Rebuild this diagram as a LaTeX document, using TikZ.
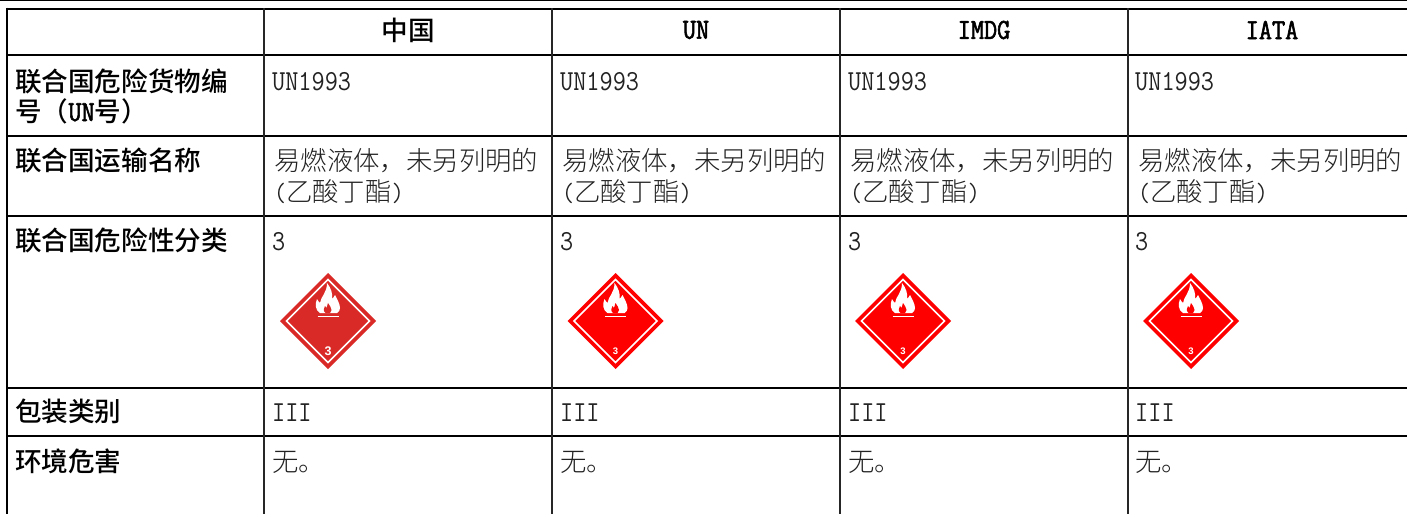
\documentclass[tikz,border=0pt]{standalone}
\usepackage{fontspec}
\setmainfont{Noto Sans CJK SC}
\setmonofont{Latin Modern Mono}
\newfontfamily\cjklight{Noto Sans CJK SC Light}
\newfontfamily\cjkbold{Noto Sans CJK SC Medium}
\newfontfamily\latreg{Latin Modern Mono}[FakeStretch=0.88]
\newfontfamily\latbld{Latin Modern Mono}[FakeStretch=0.88,FakeBold=2]
\definecolor{darkred}{HTML}{D92A27}
\definecolor{purered}{HTML}{FF0000}
\definecolor{bodytext}{HTML}{222222}
\tikzset{
  x=1pt,y=-1pt,
  rule/.style={black,line width=2pt},
  thinrule/.style={black!85,line width=1.6pt},
  hdr/.style={inner sep=0pt,font={\fontsize{26.6}{31}\selectfont\cjkbold},text=black},
  hdrlat/.style={inner sep=0pt,font={\fontsize{29}{31}\selectfont\latbld},text=black},
  lbl/.style={anchor=base west,inner sep=0pt,font={\fontsize{26.6}{31}\selectfont\cjkbold},text=black},
  val/.style={anchor=base west,inner sep=0pt,font={\fontsize{26.4}{31}\selectfont\cjklight},text=bodytext},
  lat/.style={anchor=base west,inner sep=0pt,font={\fontsize{29}{31}\selectfont\latreg},text=bodytext},
  pics/placard/.style n args={3}{code={
    \fill[#1] (0,-48) -- (48,0) -- (0,48) -- (-48,0) -- cycle;
    \draw[white,line width=1.5pt] (0,-41.5) -- (41.5,0) -- (0,41.5) -- (-41.5,0) -- cycle;
    \fill[white] (-8,-8) .. controls (-13,-11) and (-13,-17) .. (-11,-22)
      .. controls (-10,-20) and (-9,-19) .. (-8,-18)
      .. controls (-7,-25) and (-1,-28) .. (-1,-38)
      .. controls (3,-33) and (5,-27) .. (4,-22)
      .. controls (5,-23) and (6,-24) .. (7,-26)
      .. controls (9,-22) and (12,-17) .. (12,-13)
      .. controls (12,-11) and (11,-9) .. (9,-8) -- cycle;
    \fill[#1] (-2.5,-8) .. controls (-5,-10) and (-4.5,-13) .. (-3,-15)
      .. controls (-2.5,-14) and (-2,-13.5) .. (-1.5,-13)
      .. controls (-1,-15) and (-0.5,-16) .. (0,-18)
      .. controls (1.5,-16) and (3.5,-13) .. (3.5,-11)
      .. controls (3.5,-10) and (3,-9) .. (2,-8) -- cycle;
    \draw[white,line width=1.6pt] (-10.5,-4.5) -- (10.5,-4.5);
    \node[text=white,inner sep=0pt,font={\fontsize{#2}{#2}\selectfont\fontspec{Liberation Sans}\bfseries}] (num) at (0,#3) {3};
  }}
}
\begin{document}
\begin{tikzpicture}
\useasboundingbox[fill=white] (0,0) rectangle (1407,514);
% rules
\draw[line width=1.4pt] (0,0.6) -- (1407,0.6);
\foreach \y in {8.5,54.5,135.5,215.5,388,436}
  \draw[rule] (6,\y) -- (1407,\y);
\draw[rule] (7,7.6) -- (7,514);
\foreach \x in {264,552,840,1128}
  \draw[thinrule] (\x,8) -- (\x,514);
% header
\node[hdr] (h1) at (408,30) {中国};
\node[hdrlat] (h2) at (696,30) {UN};
\node[hdrlat] (h3) at (984,30) {IMDG};
\node[hdrlat] (h4) at (1272,30) {IATA};
% row labels
\node[lbl] (l1a) at (15,91) {联合国危险货物编};
\node[lbl] (l1b) at (15,121) {号（{\fontsize{29}{31}\selectfont\latbld UN}号）};
\node[lbl] (l2) at (15,170) {联合国运输名称};
\node[lbl] (l3) at (15,250) {联合国危险性分类};
\node[lbl] (l4) at (15,421) {包装类别};
\node[lbl] (l5) at (15,471) {环境危害};
% columns
\foreach \c/\xa/\xb in {1/272/274,2/560/562,3/848/850,4/1135/1138}{
  \node[lat] (un\c) at (\xa,90) {UN1993};
  \node[val] (na\c) at (\xb,170) {易燃液体，未另列明的};
  \node[val] (nb\c) at (\xb,201) {{\latreg(}乙酸丁酯{\latreg)}};
  \node[lat] (cl\c) at (\xa,250) {3};
  \node[lat] (pg\c) at (\xa,421) {III};
  \node[val] (en\c) at (\xa,471) {无。};
}
% placards
\pic (p1) at (328,321) {placard={darkred}{12.5}{30}};
\pic (p2) at (615.5,321) {placard={purered}{9.5}{30.5}};
\pic (p3) at (903,321) {placard={purered}{9.5}{30.5}};
\pic (p4) at (1191,321) {placard={purered}{9.5}{30.5}};
\end{tikzpicture}
\end{document}
